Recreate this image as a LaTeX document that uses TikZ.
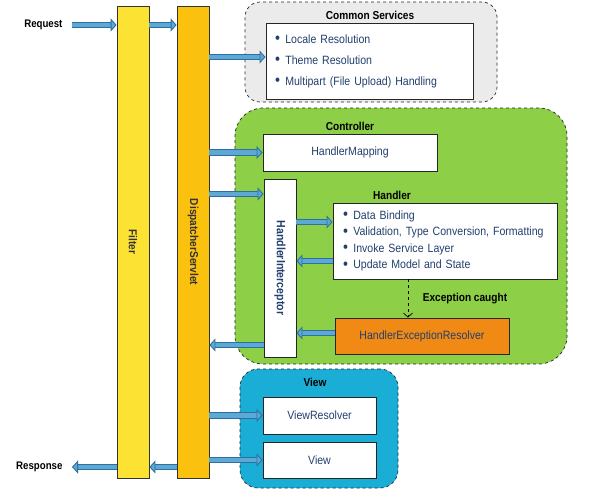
\documentclass[tikz,border=0pt]{standalone}
\usepackage{fontspec}
\setmainfont{Liberation Sans}[FakeStretch=0.88]
\usetikzlibrary{arrows.meta,positioning}

\definecolor{flowfill}{HTML}{5BA9D4}
\definecolor{flowline}{HTML}{2F6F9F}
\definecolor{filteryellow}{HTML}{FCE233}
\definecolor{servletyellow}{HTML}{FBC10F}
\definecolor{servicegray}{HTML}{EBEBEB}
\definecolor{ctrlgreen}{HTML}{8DCF47}
\definecolor{viewcyan}{HTML}{1AAED6}
\definecolor{resolverorange}{HTML}{F18A14}
\definecolor{textblue}{HTML}{22406F}

\newcommand{\itm}{{\color{textblue}\fontsize{16}{0}\selectfont\raisebox{-0.6pt}{\textbullet}}\hspace{0.45em}}

\begin{document}
\begin{tikzpicture}[x=1pt,y=-1pt]
            \useasboundingbox (0,0) rectangle (590,496);
            \tikzstyle{bar}=[rectangle,draw=black!80,line width=0.8pt,minimum width=32pt,minimum height=472pt]
            \tikzstyle{group}=[rectangle,draw=black!85,dashed,line width=0.7pt]
            \tikzstyle{box}=[rectangle,draw=black!85,fill=white,line width=0.9pt,font=\fontsize{12}{14}\selectfont,text=textblue]
            \tikzstyle{title}=[font=\bfseries\fontsize{11.5}{13}\selectfont]
            \tikzstyle{side}=[font=\bfseries\fontsize{11}{13}\selectfont]
            \tikzstyle{flow}=[draw=flowfill,line width=4.2pt,
                -{Triangle[length=6pt,width=13pt,fill=flowfill,color=flowline,line width=0.9pt]},
                preaction={draw=flowline,line width=6.2pt,-,shorten >=5pt}]

            % groups
            \node[group,fill=servicegray,rounded corners=15pt,minimum width=252pt,minimum height=100pt] (cs) at (371,52) {};
            \node[group,fill=ctrlgreen,rounded corners=28pt,minimum width=332pt,minimum height=256pt] (ctrl) at (401,236) {};
            \node[group,fill=viewcyan,rounded corners=18pt,minimum width=158pt,minimum height=119pt] (view) at (319,428.5) {};

            \node[title] at (370,15) {Common Services};
            \node[title] at (350,126) {Controller};
            \node[title] at (392,195) {Handler};
            \node[title] at (465,299) {Exception caught};
            \node[title] at (315,382) {View};

            % boxes
            \node[box,text width=189pt,inner xsep=9pt,minimum height=76pt,align=left,font=\fontsize{12}{21}\selectfont] (csin) at (369.5,61)
                {\itm Locale Resolution\\ \itm Theme Resolution\\ \itm Multipart (File Upload) Handling};
            \node[box,minimum width=174pt,minimum height=37pt] (hmap) at (350,152.5) {HandlerMapping};
            \node[box,minimum width=32pt,minimum height=178pt] (hint) at (280,268) {};
            \node[rotate=-90,font=\bfseries\fontsize{12}{14}\selectfont,text=textblue] at (hint) {HandlerInterceptor};
            \node[box,text width=204pt,inner xsep=10pt,minimum height=76pt,align=left,font=\fontsize{12}{16.5}\selectfont] (handler) at (445,241)
                {\itm Data Binding\\ \itm Validation, Type Conversion, Formatting\\ \itm Invoke Service Layer\\ \itm Update Model and State};
            \node[box,fill=resolverorange,minimum width=174pt,minimum height=36pt] (her) at (422,336) {HandlerExceptionResolver};
            \node[box,minimum width=113pt,minimum height=37pt] (vres) at (319.5,415.5) {ViewResolver};
            \node[box,minimum width=113pt,minimum height=36pt] (vbox) at (319.5,460) {View};

            % bars
            \node[bar,fill=filteryellow] (filter) at (133,242) {};
            \node[bar,fill=servletyellow] (ds) at (193,242) {};
            \node[rotate=-90,font=\bfseries\fontsize{11.5}{13}\selectfont,text=black!80] at (filter) {Filter};
            \node[rotate=-90,font=\bfseries\fontsize{11.5}{13}\selectfont,text=black!80] at (ds) {DispatcherServlet};

            \node[side,anchor=east] (req) at (66,25) {Request};
            \node[side,anchor=east] (resp) at (66,467) {Response};

            % flows
            \draw[flow] ([xshift=6pt]req.east) -- (filter.west |- req);
            \draw[flow] (filter.east |- req) -- (ds.west |- req);
            \draw[flow] (ds.east |- 0,57) -- (csin.west |- 0,57);
            \draw[flow] (ds.east |- hmap) -- (hmap.west);
            \draw[flow] (ds.east |- 0,194) -- (hint.west |- 0,194);
            \draw[flow] (hint.east |- 0,222) -- (handler.west |- 0,222);
            \draw[flow] (handler.west |- 0,261) -- (hint.east |- 0,261);
            \draw[flow] (her.west |- 0,333) -- (hint.east |- 0,333);
            \draw[flow] (hint.west |- 0,345) -- (ds.east |- 0,345);
            \draw[flow] (ds.east |- vres) -- (vres.west);
            \draw[flow] (ds.east |- vbox) -- (vbox.west);
            \draw[flow] (ds.west |- resp) -- (filter.east |- resp);
            \draw[flow] (filter.west |- resp) -- ([xshift=6pt]resp.east);

            \draw[dashed,line width=0.7pt,-{Straight Barb[length=4pt,width=9pt]}] (handler.south -| 408,0) -- (her.north -| 408,0);
\end{tikzpicture}
\end{document}
